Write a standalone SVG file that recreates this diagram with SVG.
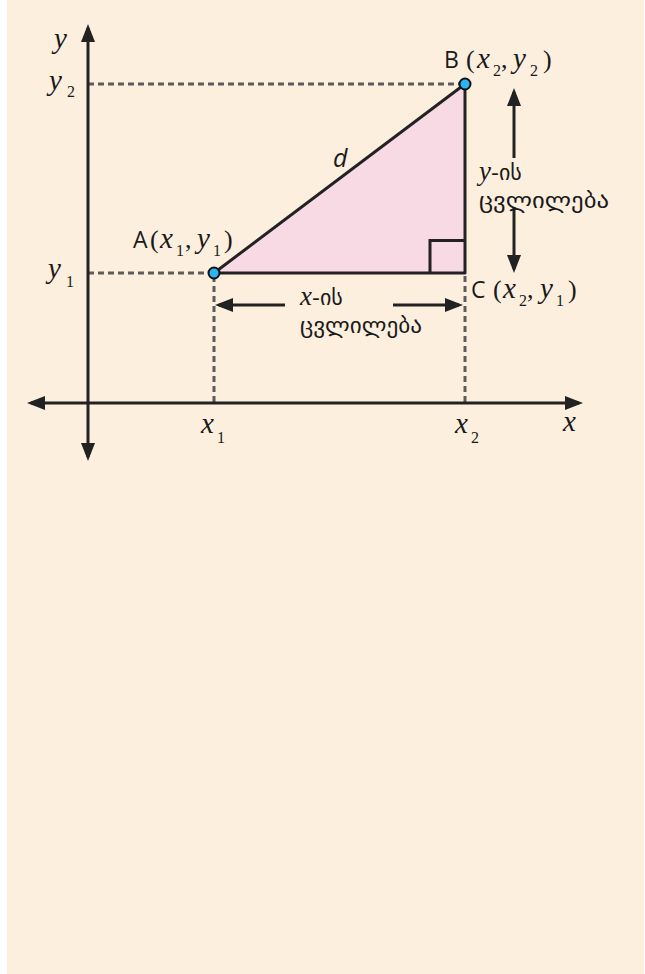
<svg xmlns="http://www.w3.org/2000/svg" width="645" height="974" viewBox="0 0 645 974">
<style>
.axis{stroke:#222;stroke-width:3;fill:none}
.dash{stroke:#5c5c5c;stroke-width:3;stroke-dasharray:6 4;fill:none}
.edge{stroke:#222;stroke-width:3;fill:none}
.pt{fill:#2bb5f5;stroke:#111;stroke-width:2}
.up{font-family:"Open Sans","Liberation Sans",sans-serif;font-size:23px;fill:#1a1a1a}
.m{font-family:"Liberation Serif",serif;font-style:italic;font-size:29px;fill:#1a1a1a}
.par{font-family:"Liberation Serif",serif;font-style:normal;font-size:26px;fill:#1a1a1a}
.sub{font-family:"Liberation Serif",serif;font-style:normal;font-size:16px;fill:#1a1a1a}
.geo{font-family:"DejaVu Sans","Noto Sans",sans-serif;font-size:22px;fill:#1a1a1a}
</style>
<defs>
<marker id="ah" markerUnits="userSpaceOnUse" viewBox="0 0 18 14" markerWidth="18" markerHeight="14" refX="14" refY="7" orient="auto-start-reverse">
<path d="M0,0 L18,7 L0,14 Z" fill="#222"/>
</marker>
</defs>
<rect x="7" y="0" width="637" height="974" fill="#fcefde"/>

<g id="connectors">
<line class="dash" x1="88" y1="84" x2="462" y2="84"/>
<line class="dash" x1="88" y1="273" x2="212" y2="273"/>
<line class="dash" x1="214" y1="276" x2="214" y2="402"/>
<line class="dash" x1="465" y1="276" x2="465" y2="402"/>
<line class="axis" x1="88" y1="28" x2="88" y2="457" marker-start="url(#ah)" marker-end="url(#ah)"/>
<line class="axis" x1="31" y1="403" x2="579" y2="403" marker-start="url(#ah)" marker-end="url(#ah)"/>
<line class="axis" x1="514" y1="92" x2="514" y2="158" marker-start="url(#ah)"/>
<line class="axis" x1="514" y1="207" x2="514" y2="269" marker-end="url(#ah)"/>
<line class="axis" x1="219" y1="305" x2="285" y2="305" marker-start="url(#ah)"/>
<line class="axis" x1="393" y1="305" x2="459" y2="305" marker-end="url(#ah)"/>
</g>

<g id="triangle">
<polygon points="214,273 465,84 465,273" fill="#f7dae3" stroke="#222" stroke-width="3" stroke-linejoin="round"/>
<path class="edge" d="M430,273 V240.5 H465"/>
<text class="up" x="333" y="167" style="font-style:italic;font-size:25px">d</text>
</g>

<g id="axis-labels">
<text class="m" x="54" y="48">y</text>
<text class="m" x="49" y="90">y<tspan class="sub" x="67" y="97">2</tspan></text>
<text class="m" x="48" y="278">y<tspan class="sub" x="66" y="287">1</tspan></text>
<text class="m" x="201" y="433">x<tspan class="sub" x="217" y="443">1</tspan></text>
<text class="m" x="455" y="433">x<tspan class="sub" x="471" y="443">2</tspan></text>
<text class="m" x="563" y="431">x</text>
</g>

<g id="point-A">
<circle class="pt" cx="214" cy="273" r="5.5"/>
<text class="up" x="133" y="248">A<tspan class="par" x="150">(</tspan><tspan class="m" x="160">x</tspan><tspan class="sub" x="176" y="256">1</tspan><tspan class="par" x="185" y="248">,</tspan><tspan class="m" x="197">y</tspan><tspan class="sub" x="213" y="256">1</tspan><tspan class="par" x="224" y="248">)</tspan></text>
</g>

<g id="point-B">
<circle class="pt" cx="465" cy="84" r="5.5"/>
<text class="up" x="444" y="68">B<tspan class="par" x="466">(</tspan><tspan class="m" x="477">x</tspan><tspan class="sub" x="493" y="76">2</tspan><tspan class="par" x="501" y="68">,</tspan><tspan class="m" x="513">y</tspan><tspan class="sub" x="530" y="76">2</tspan><tspan class="par" x="543" y="68">)</tspan></text>
</g>

<g id="point-C">
<text class="up" x="471" y="298">C<tspan class="par" x="493">(</tspan><tspan class="m" x="503">x</tspan><tspan class="sub" x="519" y="306">2</tspan><tspan class="par" x="527" y="298">,</tspan><tspan class="m" x="540">y</tspan><tspan class="sub" x="556" y="306">1</tspan><tspan class="par" x="568" y="298">)</tspan></text>
</g>

<g id="y-change">
<text class="geo" x="479" y="180"><tspan class="m" style="font-size:27px">y</tspan>-ის</text>
<text class="geo" x="479" y="208" textLength="130" lengthAdjust="spacingAndGlyphs">ცვლილება</text>
</g>

<g id="x-change">
<text class="geo" x="300" y="305"><tspan class="m" style="font-size:27px">x</tspan>-ის</text>
<text class="geo" x="300" y="333" textLength="122" lengthAdjust="spacingAndGlyphs">ცვლილება</text>
</g>
</svg>
